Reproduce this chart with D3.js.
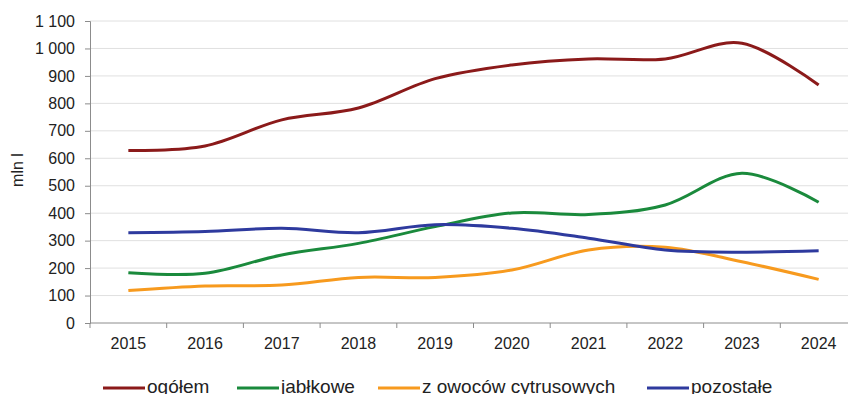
<!DOCTYPE html>
<html>
<head>
<meta charset="utf-8">
<script src="https://cdn.jsdelivr.net/npm/d3@7"></script>
<style>
  html, body { margin: 0; padding: 0; background: #fff; }
  svg { display: block; font-family: "Liberation Sans", Arial, sans-serif; }
</style>
</head>
<body>
<svg id="chart" width="848" height="394"></svg>
<script>
// Production of juices (mln l), 2015–2024
const years = ["2015", "2016", "2017", "2018", "2019", "2020", "2021", "2022", "2023", "2024"];
const ogolem = [628, 645, 740, 783, 890, 940, 962, 962, 1019, 867];
const jablkowe = [183, 181, 248, 290, 351, 401, 395, 430, 545, 440];
const cytrusowe = [118, 135, 138, 166, 166, 193, 266, 276, 223, 159];
const pozostale = [329, 333, 345, 329, 358, 345, 309, 266, 258, 263];
const yTicks = [0, 100, 200, 300, 400, 500, 600, 700, 800, 900, 1000, 1100];

const series = [
  { name: "ogółem", values: ogolem, color: "#8b1a1a" },
  { name: "jabłkowe", values: jablkowe, color: "#1a8a3c" },
  { name: "z owoców cytrusowych", values: cytrusowe, color: "#f79a1e" },
  { name: "pozostałe", values: pozostale, color: "#2e3a9e" }
];

const svg = d3.select("#chart");
const plotLeft = 90, plotRight = 857, plotTop = 21, plotBottom = 323;

const x = d3.scaleBand().domain(years).range([plotLeft, plotRight]);
const y = d3.scaleLinear().domain([0, 1100]).range([plotBottom, plotTop]);

const fmt = v => d3.format(",")(v).replace(/,/g, " ");

// horizontal gridlines
svg.append("g")
  .selectAll("line")
  .data(yTicks.filter(d => d > 0))
  .join("line")
  .attr("x1", plotLeft).attr("x2", 848)
  .attr("y1", d => y(d)).attr("y2", d => y(d))
  .attr("stroke", "#e0e0e0").attr("stroke-width", 1);

// y axis
const yAxis = svg.append("g")
  .attr("transform", `translate(${plotLeft},0)`)
  .call(d3.axisLeft(y).tickValues(yTicks).tickFormat(fmt).tickSize(5).tickPadding(10));
yAxis.select(".domain").attr("stroke", "#8c8c8c");
yAxis.selectAll(".tick line").attr("stroke", "#8c8c8c");
yAxis.selectAll("text").attr("font-size", 16).attr("fill", "#222")
  .attr("font-family", "'Liberation Sans', Arial, sans-serif");

// x axis: tick marks sit between categories
const xAxis = svg.append("g").attr("transform", `translate(0,${plotBottom})`);
xAxis.append("line")
  .attr("x1", plotLeft).attr("x2", 848).attr("y1", 0).attr("y2", 0)
  .attr("stroke", "#8c8c8c");
xAxis.selectAll("line.tick")
  .data(years)
  .join("line")
  .attr("class", "tick")
  .attr("x1", d => x(d)).attr("x2", d => x(d))
  .attr("y1", 0).attr("y2", 5)
  .attr("stroke", "#8c8c8c");
xAxis.selectAll("text")
  .data(years)
  .join("text")
  .attr("x", d => x(d) + x.bandwidth() / 2)
  .attr("y", 26)
  .attr("text-anchor", "middle")
  .attr("font-size", 16)
  .attr("fill", "#222")
  .text(d => d);

// y axis title
svg.append("text")
  .attr("transform", "translate(23,170) rotate(-90)")
  .attr("text-anchor", "middle")
  .attr("font-size", 16)
  .attr("fill", "#222")
  .text("mln l");

// smoothed series lines
const line = d3.line()
  .x((d, i) => x(years[i]) + x.bandwidth() / 2)
  .y(d => y(d))
  .curve(d3.curveCardinal.tension(0));

svg.append("g")
  .selectAll("path")
  .data(series)
  .join("path")
  .attr("d", d => line(d.values))
  .attr("fill", "none")
  .attr("stroke", d => d.color)
  .attr("stroke-width", 3)
  .attr("stroke-linejoin", "round");

// legend along the bottom edge
const legendX = [103, 237, 378, 647];
const legend = svg.append("g")
  .selectAll("g")
  .data(series)
  .join("g")
  .attr("transform", (d, i) => `translate(${legendX[i]},388)`);
legend.append("line")
  .attr("x1", 0).attr("x2", 42).attr("y1", 0).attr("y2", 0)
  .attr("stroke", d => d.color).attr("stroke-width", 3);
legend.append("text")
  .attr("x", 44).attr("y", 5)
  .attr("font-size", 19)
  .attr("fill", "#222")
  .text(d => d.name);
</script>
</body>
</html>
